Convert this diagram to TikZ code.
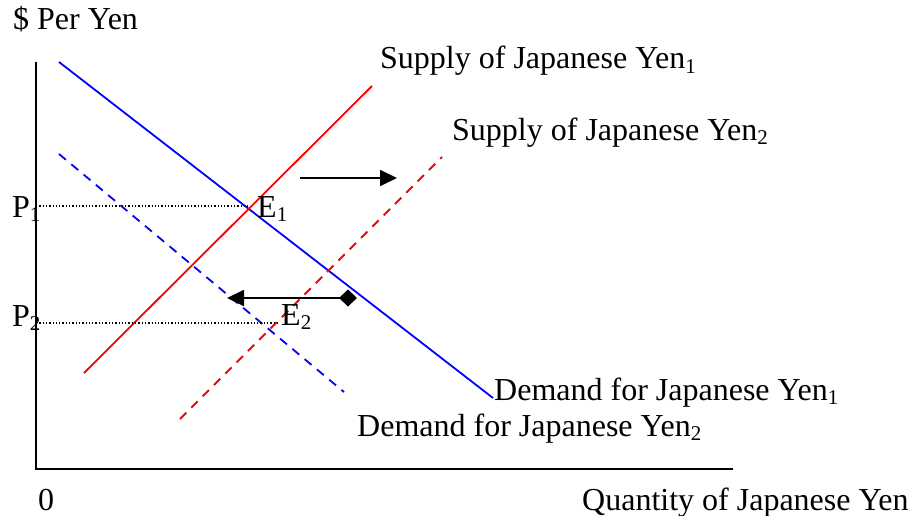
\documentclass[tikz,border=0pt]{standalone}
\usepackage{fontspec}
\setmainfont{Liberation Serif}
\usetikzlibrary{arrows.meta}
\newcommand{\sbs}[1]{\raisebox{-0.14em}{\fontsize{21}{21}\selectfont #1}}
\begin{document}
\begin{tikzpicture}[x=1pt,y=-1pt,
  lbl/.style={anchor=base west,inner sep=0pt,font=\fontsize{32}{34}\selectfont},
  axis/.style={line width=2.4pt,black},
  dem/.style={line width=1.8pt,blue},
  sup/.style={line width=1.8pt,red},
  shifted/.style={dash pattern=on 9pt off 7pt},
  guide/.style={line width=1.3pt,dotted,black},
  shiftarrow/.style={line width=1.8pt,black,-{Triangle[length=17pt,width=16pt]}}]
\useasboundingbox (0,0) rectangle (912,516);
% axes
\coordinate (ytop) at (36,62);
\coordinate (orig) at (36,469);
\coordinate (xend) at (733,469);
\draw[axis] (ytop) -- (orig) -- (xend);
% curves
\coordinate (d1a) at (59,62);   \coordinate (d1b) at (493,398);
\coordinate (d2a) at (59,154);  \coordinate (d2b) at (344,392);
\coordinate (s1a) at (84,373);  \coordinate (s1b) at (372,86);
\coordinate (s2a) at (180,419); \coordinate (s2b) at (442,157);
\draw[dem] (d1a) -- (d1b);
\draw[dem,shifted] (d2a) -- (d2b);
\draw[sup] (s1a) -- (s1b);
\draw[sup,shifted] (s2a) -- (s2b);
% guides
\coordinate (p1ax) at (36,206); \coordinate (e1pt) at (248,206);
\coordinate (p2ax) at (36,323); \coordinate (e2pt) at (277,323);
\draw[guide] (p1ax) -- (e1pt);
\draw[guide] (p2ax) -- (e2pt);
% shift arrows
\coordinate (ra) at (300,178); \coordinate (rb) at (397,178);
\draw[shiftarrow] (ra) -- (rb);
\coordinate (la) at (357,298); \coordinate (lb) at (227,298);
\draw[shiftarrow,{Diamond[length=18pt,width=17pt]}-{Triangle[length=17pt,width=16pt]}] (la) -- (lb);
% labels
\node[lbl] (ylab) at (13,30) {\$ Per Yen};
\node[lbl] (xlab) at (582,510) {Quantity of Japanese Yen};
\node[lbl] (zero) at (38,510) {0};
\node[lbl] (p1) at (12,217) {P\sbs{1}};
\node[lbl] (p2) at (12,326) {P\sbs{2}};
\node[lbl] (e1) at (257,217) {E\sbs{1}};
\node[lbl] (e2) at (281,325) {E\sbs{2}};
\node[lbl] (s1) at (380,69) {Supply of Japanese Yen\sbs{1}};
\node[lbl] (s2) at (452,140) {Supply of Japanese Yen\sbs{2}};
\node[lbl] (dl1) at (494,400) {Demand for Japanese Yen\sbs{1}};
\node[lbl] (dl2) at (357,436) {Demand for Japanese Yen\sbs{2}};
\end{tikzpicture}
\end{document}
